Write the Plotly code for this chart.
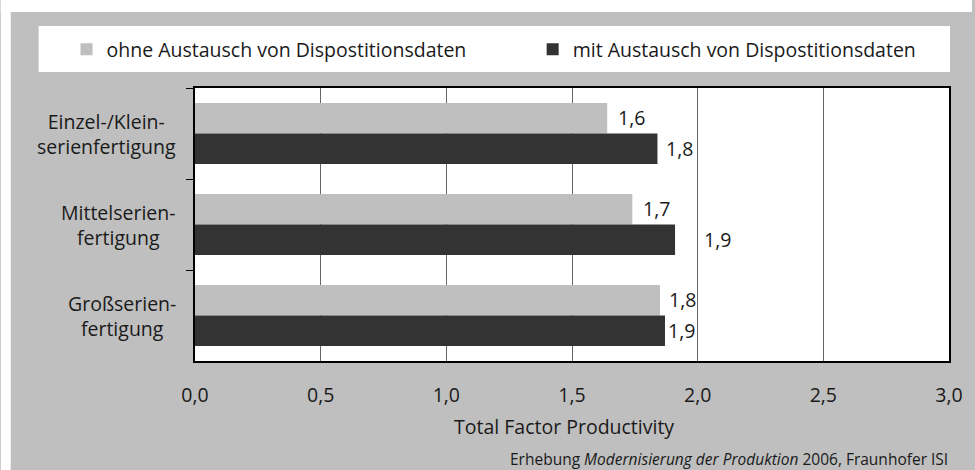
import plotly.graph_objects as go

categories = ["Einzel-/Klein-<br>serienfertigung", "Mittelserien-<br>fertigung", "Großserien-<br>fertigung"]
series_names = ["ohne Austausch von Dispostitionsdaten", "mit Austausch von Dispostitionsdaten"]
ohne_values = [1.64, 1.74, 1.85]
mit_values = [1.84, 1.91, 1.87]
ohne_labels = ["1,6", "1,7", "1,8"]
mit_labels = ["1,8", "1,9", "1,9"]
x_tick_vals = [0, 0.5, 1.0, 1.5, 2.0, 2.5, 3.0]
x_tick_text = ["0,0", "0,5", "1,0", "1,5", "2,0", "2,5", "3,0"]

# label pixel offsets (style)
ohne_label_shift = [9, 9, 7]
mit_label_shift = [7, 27, 1]

W, H = 975, 470
L, R, T, B = 195, 952, 88, 361
PW, PH = R - L, B - T

def px_x(px):
    return (px - L) / PW

def px_y(py):
    return (B - py) / PH

GRAY = "#BFBFBF"
DARK = "#333333"
FONT = "Open Sans"
TXT = "#1a1a1a"

fig = go.Figure()
fig.add_trace(go.Bar(y=categories, x=ohne_values, orientation="h", name=series_names[0],
                     marker=dict(color=GRAY, line=dict(width=0)), hoverinfo="skip",
                     legend="legend"))
fig.add_trace(go.Bar(y=categories, x=mit_values, orientation="h", name=series_names[1],
                     marker=dict(color=DARK, line=dict(width=0)), hoverinfo="skip",
                     legend="legend2"))

annotations = []
for i, c in enumerate(categories):
    annotations.append(dict(x=px_x(178), xref="paper", y=c, yref="y", text=c, showarrow=False,
                            xanchor="right", yanchor="middle", align="center",
                            font=dict(family=FONT, size=19.5, color=TXT)))
    annotations.append(dict(x=ohne_values[i], xref="x", y=c, yref="y", text=ohne_labels[i],
                            showarrow=False, xanchor="left", yanchor="middle",
                            xshift=ohne_label_shift[i], yshift=16,
                            font=dict(family=FONT, size=19.5, color=TXT)))
    annotations.append(dict(x=mit_values[i], xref="x", y=c, yref="y", text=mit_labels[i],
                            showarrow=False, xanchor="left", yanchor="middle",
                            xshift=mit_label_shift[i], yshift=-15,
                            font=dict(family=FONT, size=19.5, color=TXT)))

annotations.append(dict(x=px_x(565), xref="paper", y=px_y(426), yref="paper",
                        text="Total Factor Productivity", showarrow=False,
                        xanchor="center", yanchor="middle",
                        font=dict(family=FONT, size=19.5, color=TXT)))
annotations.append(dict(x=px_x(953), xref="paper", y=px_y(459), yref="paper",
                        text="Erhebung <i>Modernisierung der Produktion</i> 2006, Fraunhofer ISI",
                        showarrow=False, xanchor="right", yanchor="middle",
                        font=dict(family=FONT, size=15.5, color=TXT)))

shapes = [
    dict(type="rect", xref="paper", yref="paper", x0=px_x(0), x1=px_x(W), y0=px_y(0), y1=px_y(12),
         fillcolor="white", line=dict(width=0), layer="below"),
    dict(type="rect", xref="paper", yref="paper", x0=px_x(0), x1=px_x(10), y0=px_y(0), y1=px_y(H),
         fillcolor="white", line=dict(width=0), layer="below"),
    dict(type="rect", xref="paper", yref="paper", x0=px_x(38), x1=px_x(953), y0=px_y(26), y1=px_y(72),
         fillcolor="white", line=dict(width=0), layer="below"),
]

legend_common = dict(orientation="h", xanchor="left", yanchor="middle", y=px_y(49.5),
                     bgcolor="rgba(0,0,0,0)", font=dict(family=FONT, size=19.5, color=TXT),
                     itemclick=False, itemdoubleclick=False)

fig.update_layout(
    width=W, height=H,
    margin=dict(l=L, r=W - R, t=T, b=H - B, pad=0),
    paper_bgcolor=GRAY, plot_bgcolor="white",
    separators=",.",
    barmode="group", bargap=0.33, bargroupgap=0,
    font=dict(family=FONT, size=19.5, color=TXT),
    showlegend=True,
    legend=dict(x=px_x(66), **legend_common),
    legend2=dict(x=px_x(534), **legend_common),
    annotations=annotations,
    shapes=shapes,
)

fig.update_xaxes(range=[0, 3], tickvals=x_tick_vals, ticktext=x_tick_text,
                 showgrid=True, gridcolor="#666666", gridwidth=1, zeroline=False,
                 showline=True, linecolor="black", linewidth=1.5, mirror=True,
                 ticks="", ticklabelstandoff=16,
                 tickfont=dict(family=FONT, size=19.5, color=TXT), fixedrange=True)
fig.update_yaxes(autorange="reversed", showticklabels=False, showgrid=False, zeroline=False,
                 showline=True, linecolor="black", linewidth=1.5, mirror=True,
                 ticks="outside", tickson="boundaries", ticklen=7, tickcolor="black", tickwidth=1,
                 fixedrange=True)

fig.write_html("out.html", config={"displayModeBar": False},
               post_script="document.body.style.margin='0';document.body.style.overflow='hidden';")
